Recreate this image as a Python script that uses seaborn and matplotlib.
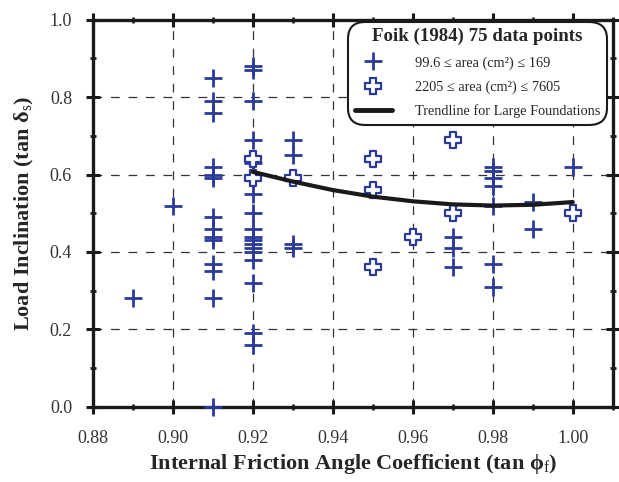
import matplotlib
matplotlib.use("Agg")
import matplotlib.pyplot as plt
from matplotlib.lines import Line2D
from matplotlib.ticker import MultipleLocator
import seaborn as sns
import pandas as pd

# ---- data ----
small_x = [0.89, 0.90,
           0.91, 0.91, 0.91, 0.91, 0.91, 0.91, 0.91, 0.91, 0.91, 0.91, 0.91, 0.91, 0.91, 0.91,
           0.92, 0.92, 0.92, 0.92, 0.92, 0.92, 0.92, 0.92, 0.92, 0.92, 0.92, 0.92, 0.92, 0.92, 0.92, 0.92, 0.92,
           0.93, 0.93, 0.93, 0.93,
           0.97, 0.97, 0.97,
           0.98, 0.98, 0.98, 0.98, 0.98, 0.98, 0.98,
           0.99, 0.99,
           1.00]
small_y = [0.28, 0.52,
           0.85, 0.79, 0.76, 0.62, 0.60, 0.59, 0.49, 0.46, 0.44, 0.43, 0.37, 0.35, 0.28, 0.00,
           0.88, 0.87, 0.79, 0.69, 0.63, 0.55, 0.50, 0.46, 0.44, 0.43, 0.42, 0.41, 0.40, 0.38, 0.32, 0.19, 0.16,
           0.69, 0.65, 0.42, 0.41,
           0.44, 0.41, 0.36,
           0.62, 0.61, 0.59, 0.57, 0.52, 0.37, 0.31,
           0.53, 0.46,
           0.62]
large_x = [0.92, 0.92, 0.93, 0.95, 0.95, 0.95, 0.96, 0.97, 0.97, 1.00]
large_y = [0.64, 0.59, 0.59, 0.64, 0.56, 0.36, 0.44, 0.69, 0.50, 0.50]
trend_x = [0.92, 0.93, 0.94, 0.95, 0.96, 0.97, 0.98, 0.99, 1.00]
trend_y = [0.607, 0.582, 0.560, 0.543, 0.531, 0.523, 0.520, 0.522, 0.529]

x_ticks = [0.88, 0.90, 0.92, 0.94, 0.96, 0.98, 1.00]
y_ticks = [0.0, 0.2, 0.4, 0.6, 0.8, 1.0]

legend_title = "Foik (1984) 75 data points"
label_small = "99.6 \u2264 area (cm\u00b2) \u2264 169"
label_large = "2205 \u2264 area (cm\u00b2) \u2264 7605"
label_trend = "Trendline for Large Foundations"

blue = "#2b3a9a"

sns.set_theme(style="ticks")
plt.rcParams["font.family"] = ["Liberation Serif", "DejaVu Serif"]
plt.rcParams["mathtext.fontset"] = "custom"
plt.rcParams["mathtext.rm"] = "Liberation Serif"
plt.rcParams["mathtext.it"] = "Liberation Serif:italic"
plt.rcParams["mathtext.bf"] = "Liberation Serif:bold"

fig = plt.figure(figsize=(6.19, 4.82), dpi=100)
ax = fig.add_axes([0.150, 0.156, 0.840, 0.803])

small_df = pd.DataFrame({"x": small_x, "y": small_y})
large_df = pd.DataFrame({"x": large_x, "y": large_y})
trend_df = pd.DataFrame({"x": trend_x, "y": trend_y})

# grid
for xv in x_ticks[1:]:
    ax.axvline(xv, color="#333333", lw=0.9, ls=(0, (7, 7)), zorder=0)
for yv in y_ticks[1:-1]:
    ax.axhline(yv, color="#333333", lw=0.9, ls=(0, (7, 7)), zorder=0)

sns.scatterplot(data=small_df, x="x", y="y", ax=ax, marker="+", s=170,
                color=blue, linewidth=2.0, zorder=3, clip_on=False, legend=False)
sns.scatterplot(data=large_df, x="x", y="y", ax=ax, marker="P", s=140,
                facecolor="white", edgecolor=blue, linewidth=1.6, zorder=4, legend=False)
sns.lineplot(data=trend_df, x="x", y="y", ax=ax, color="#1a1a1a", lw=3.0, zorder=5)

ax.set_xlim(0.88, 1.01)
ax.set_ylim(0.0, 1.0)
ax.set_xticks(x_ticks)
ax.set_yticks(y_ticks)
ax.set_xticklabels([f"{v:.2f}" for v in x_ticks])
ax.set_yticklabels([f"{v:.1f}" for v in y_ticks])
ax.xaxis.set_minor_locator(MultipleLocator(0.01))
ax.yaxis.set_minor_locator(MultipleLocator(0.1))
ax.tick_params(which="major", direction="inout", length=10, width=2.2,
               labelsize=13, colors="#1a1a1a", top=True, right=True)
ax.tick_params(which="minor", direction="inout", length=5, width=2.0,
               top=True, right=True)
ax.tick_params(axis="both", labelcolor="#333333")
ax.tick_params(axis="x", pad=12)
ax.tick_params(axis="y", pad=10)
for sp in ax.spines.values():
    sp.set_linewidth(2.4)
    sp.set_color("#1a1a1a")

ax.set_xlabel("Internal Friction Angle Coefficient (tan \u03d5$_{\\mathrm{f}}$)",
              fontsize=16, fontweight="bold", labelpad=3)
ax.set_ylabel("Load Inclination (tan \u03b4$_{\\mathrm{s}}$)",
              fontsize=16, fontweight="bold", labelpad=10)

handles = [
    Line2D([], [], marker="+", ls="none", color=blue, markersize=13, mew=2.0),
    Line2D([], [], marker="P", ls="none", markerfacecolor="white",
           markeredgecolor=blue, markersize=11, mew=1.6),
    Line2D([], [], color="#1a1a1a", lw=3.5),
]
leg = ax.legend(handles, [label_small, label_large, label_trend],
                title=legend_title, loc="upper right",
                bbox_to_anchor=(0.988, 0.995), borderaxespad=0,
                fontsize=10.3, title_fontproperties={"weight": "bold", "size": 13.6},
                frameon=True, fancybox=True, framealpha=1, edgecolor="#1a1a1a",
                handlelength=2.6, handletextpad=1.6, labelspacing=0.75,
                borderpad=0.45)
leg.get_frame().set_linewidth(1.5)
leg.get_frame().set_boxstyle("round", pad=0.0, rounding_size=1.2)
leg.set_zorder(10)

fig.savefig("out.png", dpi=100)
